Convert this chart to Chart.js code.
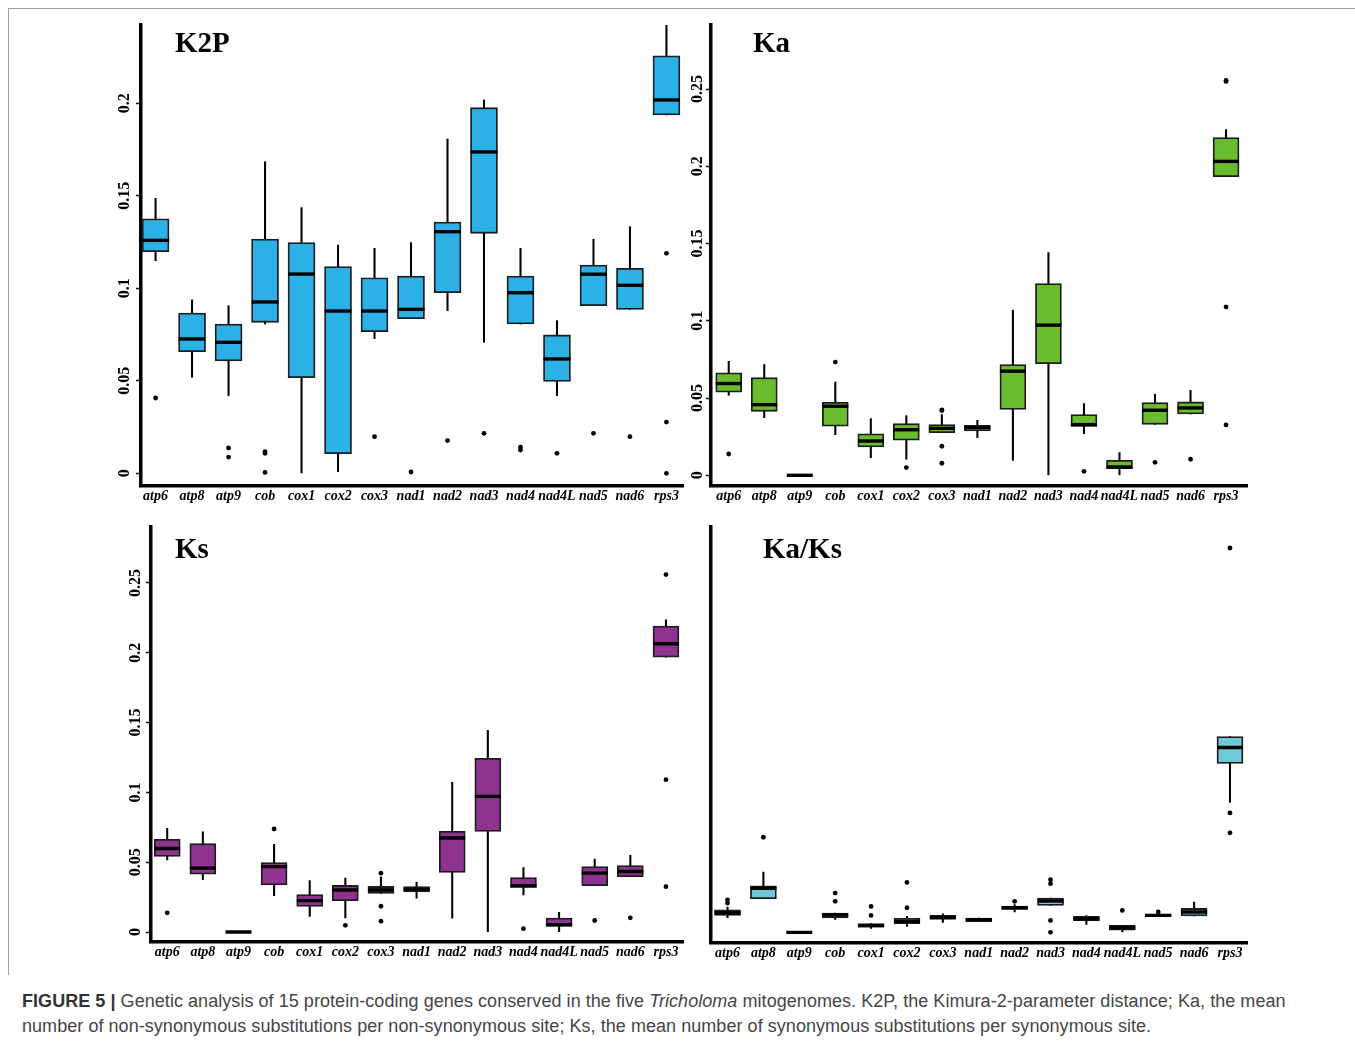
<!DOCTYPE html>
<html>
<head>
<meta charset="utf-8">
<script src="https://cdn.jsdelivr.net/npm/chart.js@4.4.1/dist/chart.umd.min.js"></script>
<style>
  html, body { margin: 0; padding: 0; background: #fff; }
  body { width: 1355px; height: 1045px; position: relative; overflow: hidden; }
  canvas { position: absolute; }
  .ttl { position: absolute; font: bold 29px 'Liberation Serif', 'Times New Roman', serif; line-height: 29px; color: #000; white-space: nowrap; }
  .cap { position: absolute; left: 22px; font: 18px 'Liberation Sans', Arial, sans-serif; letter-spacing: 0.05px; line-height: 20px; color: #454545; white-space: nowrap; }
  .cap b { color: #333; }
  .rule { position: absolute; background: #a0a0a0; }
</style>
</head>
<body>
<div class="rule" style="left:8px;top:8px;width:1347px;height:1px;"></div>
<div class="rule" style="left:8px;top:8px;width:1px;height:967px;"></div>

<canvas id="k2p" width="700" height="515" style="left:0px;top:0px;"></canvas>
<canvas id="ka" width="600" height="515" style="left:680px;top:0px;"></canvas>
<canvas id="ks" width="700" height="470" style="left:0px;top:510px;"></canvas>
<canvas id="kaks" width="600" height="470" style="left:680px;top:510px;"></canvas>

<div class="ttl" style="left:175px;top:27.7px;">K2P</div>
<div class="ttl" style="left:753px;top:27.7px;">Ka</div>
<div class="ttl" style="left:175px;top:533.7px;">Ks</div>
<div class="ttl" style="left:763px;top:533.7px;">Ka/Ks</div>

<div class="cap" style="top:990.7px;"><b>FIGURE 5 |</b> Genetic analysis of 15 protein-coding genes conserved in the five <i>Tricholoma</i> mitogenomes. K2P, the Kimura-2-parameter distance; Ka, the mean</div>
<div class="cap" style="top:1015.7px;">number of non-synonymous substitutions per non-synonymous site; Ks, the mean number of synonymous substitutions per synonymous site.</div>

<script>
// Genes on the x axis
const genes = ['atp6','atp8','atp9','cob','cox1','cox2','cox3','nad1','nad2','nad3','nad4','nad4L','nad5','nad6','rps3'];

// Y-axis tick values and their printed labels
const yTickValues = [0, 0.05, 0.1, 0.15, 0.2, 0.25];
const yTickLabels = ['0', '0.05', '0.1', '0.15', '0.2', '0.25'];

// K2P distance: lower whisker, Q1, median, Q3, upper whisker, outliers
const k2pLow  = [0.1149, 0.0519, 0.0420, 0.0807, 0.0000, 0.0009, 0.0728, 0.0836, 0.0879, 0.0708, 0.0807, 0.0420, 0.0906, 0.0886, 0.1937];
const k2pQ1   = [0.1198, 0.0657, 0.0607, 0.0816, 0.0517, 0.0106, 0.0765, 0.0836, 0.0976, 0.1297, 0.0807, 0.0497, 0.0906, 0.0886, 0.1937];
const k2pMed  = [0.1259, 0.0726, 0.0708, 0.0926, 0.1077, 0.0877, 0.0877, 0.0886, 0.1306, 0.1737, 0.0976, 0.0618, 0.1076, 0.1016, 0.2018];
const k2pQ3   = [0.1376, 0.0866, 0.0807, 0.1266, 0.1247, 0.1117, 0.1057, 0.1066, 0.1358, 0.1976, 0.1066, 0.0748, 0.1126, 0.1108, 0.2256];
const k2pHigh = [0.1486, 0.0937, 0.0906, 0.1684, 0.1436, 0.1234, 0.1216, 0.1247, 0.1807, 0.2018, 0.1216, 0.0825, 0.1265, 0.1333, 0.2423];
const k2pOut  = [[0.0407], [], [0.0137, 0.0088], [0.0117, 0.0108, 0.0005], [], [], [0.0198], [0.0007], [0.0177], [0.0216], [0.0141, 0.0126], [0.0108], [0.0216], [0.0198], [0.1189, 0.0277, 0.0]];

// Ka: non-synonymous substitutions per non-synonymous site
const kaLow  = [0.0518, 0.0373, 0, 0.0263, 0.0114, 0.0104, 0.0276, 0.0244, 0.0097, 0.0000, 0.0270, 0.0000, 0.0330, 0.0397, 0.1933];
const kaQ1   = [0.0538, 0.0414, 0, 0.0318, 0.0183, 0.0227, 0.0276, 0.0287, 0.0426, 0.0723, 0.0317, 0.0043, 0.0330, 0.0397, 0.1933];
const kaMed  = [0.0594, 0.0457, 0, 0.0447, 0.0222, 0.0295, 0.0304, 0.0309, 0.0674, 0.0972, 0.0328, 0.0054, 0.0421, 0.0436, 0.2032];
const kaQ3   = [0.0663, 0.0632, 0, 0.0472, 0.0268, 0.0334, 0.0328, 0.0324, 0.0717, 0.1241, 0.0393, 0.0097, 0.0470, 0.0475, 0.2187];
const kaHigh = [0.0738, 0.0717, 0, 0.0604, 0.0367, 0.0386, 0.0393, 0.0356, 0.1069, 0.1442, 0.0464, 0.0147, 0.0525, 0.0550, 0.2238];
const kaOut  = [[0.0138], [], [], [0.0733], [], [0.0050], [0.0423, 0.0419, 0.0188, 0.0078], [], [], [], [0.0026], [], [0.0084], [0.0104], [0.2556, 0.2550, 0.1090, 0.0326]];

// Ks: synonymous substitutions per synonymous site
const ksLow  = [0.0517, 0.0375, 0, 0.0261, 0.0112, 0.0102, 0.0277, 0.0242, 0.0100, 0.0000, 0.0266, 0.0000, 0.0332, 0.0396, 0.1968];
const ksQ1   = [0.0541, 0.0415, 0, 0.0337, 0.0183, 0.0225, 0.0277, 0.0287, 0.0427, 0.0721, 0.0320, 0.0041, 0.0332, 0.0396, 0.1968];
const ksMed  = [0.0598, 0.0458, 0, 0.0469, 0.0225, 0.0301, 0.0301, 0.0306, 0.0674, 0.0972, 0.0332, 0.0053, 0.0422, 0.0434, 0.2065];
const ksQ3   = [0.0664, 0.0633, 0, 0.0498, 0.0268, 0.0334, 0.0327, 0.0325, 0.0721, 0.1245, 0.0391, 0.0100, 0.0469, 0.0477, 0.2191];
const ksHigh = [0.0742, 0.0718, 0, 0.0629, 0.0368, 0.0387, 0.0396, 0.0356, 0.1072, 0.1444, 0.0462, 0.0142, 0.0522, 0.0550, 0.2236];
const ksOut  = [[0.0138], [], [], [0.0738], [], [0.0048], [0.0422, 0.0185, 0.0078], [], [], [], [0.0024], [], [0.0083], [0.0102], [0.2560, 0.1091, 0.0325]];

// Ka/Ks ratio
const kaksLow  = [0.103, 0.236, 0, 0.091, 0.028, 0.042, 0.070, 0.075, 0.143, 0.189, 0.056, 0.002, 0.110, 0.115, 0.914];
const kaksQ1   = [0.119, 0.236, 0, 0.101, 0.037, 0.061, 0.091, 0.075, 0.161, 0.189, 0.082, 0.016, 0.110, 0.115, 1.188];
const kaksMed  = [0.138, 0.309, 0, 0.122, 0.047, 0.077, 0.105, 0.089, 0.173, 0.220, 0.096, 0.033, 0.119, 0.143, 1.300];
const kaksQ3   = [0.159, 0.328, 0, 0.136, 0.061, 0.098, 0.119, 0.101, 0.185, 0.241, 0.112, 0.049, 0.129, 0.168, 1.378];
const kaksHigh = [0.178, 0.423, 0, 0.136, 0.061, 0.112, 0.131, 0.101, 0.196, 0.241, 0.118, 0.049, 0.129, 0.213, 1.378];
const kaksOut  = [[0.229, 0.206], [0.669], [], [0.276, 0.218], [0.182, 0.119], [0.351, 0.173], [], [], [0.218], [0.370, 0.342, 0.084, 0.0], [], [0.154], [0.143], [], [2.704, 0.840, 0.700]];

const positions = genes.map((g, i) => i + 1);

function boxPlot(canvasId, s, p) {
  const datasets = [
    { // median bar
      type: 'scatter', order: 0,
      data: positions.map((x, i) => ({ x, y: s.med[i] })),
      pointStyle: 'line', pointRadius: p.boxWidth / 2, pointBorderWidth: 3.4,
      pointBorderColor: '#000', pointBackgroundColor: '#000'
    },
    { // outlying points
      type: 'scatter', order: 1,
      data: s.out.flatMap((vals, i) => vals.map(y => ({ x: i + 1, y }))),
      pointStyle: 'circle', pointRadius: 2.4, pointBorderWidth: 0,
      pointBackgroundColor: '#000'
    },
    { // interquartile box
      type: 'bar', order: 2, grouped: false,
      data: positions.map((x, i) => ({ x, y: [s.q1[i], s.q3[i]] })),
      backgroundColor: p.fill, borderColor: '#1c1c1c', borderWidth: 1.8,
      borderSkipped: false, barThickness: p.boxWidth
    },
    { // whisker
      type: 'bar', order: 3, grouped: false,
      data: positions.map((x, i) => ({ x, y: [s.low[i], s.high[i]] })),
      backgroundColor: '#000', borderWidth: 0, barThickness: 1.4
    }
  ];

  const yTicksShown = p.showYTicks;
  return new Chart(document.getElementById(canvasId), {
    type: 'bar',
    data: { datasets },
    options: {
      responsive: false, animation: false, events: [],
      layout: { padding: p.padding },
      plugins: { legend: { display: false }, tooltip: { enabled: false } },
      scales: {
        x: {
          type: 'linear', min: p.xMin, max: p.xMax, offset: false,
          grid: { display: false, drawTicks: false, offset: false },
          border: { display: true, color: '#000', width: 3.5 },
          afterBuildTicks: (scale) => { scale.ticks = positions.map(v => ({ value: v })); },
          afterFit: (scale) => { scale.height = p.xAxisHeight; },
          ticks: {
            autoSkip: false, maxRotation: 0, minRotation: 0, padding: p.xLabelPad,
            color: '#000',
            font: { family: "'Liberation Serif', 'Times New Roman', serif", size: 14, weight: 'bold', style: 'italic' },
            callback: (v) => genes[Math.round(v) - 1]
          }
        },
        y: {
          type: 'linear', min: p.yMin, max: p.yMax,
          grid: {
            display: yTicksShown, drawOnChartArea: false, drawTicks: yTicksShown,
            tickLength: 5, tickWidth: 1.5, tickColor: '#111'
          },
          border: { display: true, color: '#000', width: 3.5 },
          afterBuildTicks: (scale) => {
            scale.ticks = yTicksShown ? yTickValues.filter(v => v <= p.yMax).map(v => ({ value: v })) : [];
          },
          afterFit: (scale) => { scale.width = p.yAxisWidth; },
          ticks: {
            display: yTicksShown, minRotation: 90, maxRotation: 90,
            crossAlign: 'center', padding: p.yLabelPad, color: '#000',
            font: { family: "'Liberation Serif', 'Times New Roman', serif", size: 16, weight: 'bold' },
            callback: (v) => yTickLabels[yTickValues.indexOf(v)]
          }
        }
      }
    }
  });
}

boxPlot('k2p',
  { low: k2pLow, q1: k2pQ1, med: k2pMed, q3: k2pQ3, high: k2pHigh, out: k2pOut },
  { fill: '#2cb1e7', boxWidth: 27, xMin: 0.601, xMax: 15.456, yMin: -0.00686, yMax: 0.2423,
    padding: { left: 0, top: 25, right: 15, bottom: 5 }, yAxisWidth: 141, xAxisHeight: 24,
    showYTicks: true, yLabelPad: -3, xLabelPad: 2 });

boxPlot('ka',
  { low: kaLow, q1: kaQ1, med: kaMed, q3: kaQ3, high: kaHigh, out: kaOut },
  { fill: '#6bbb2f', boxWidth: 26, xMin: 0.501, xMax: 15.59, yMin: -0.00693, yMax: 0.2915,
    padding: { left: 0, top: 25, right: 33, bottom: 5 }, yAxisWidth: 31, xAxisHeight: 24,
    showYTicks: true, yLabelPad: -6, xLabelPad: 2 });

boxPlot('ks',
  { low: ksLow, q1: ksQ1, med: ksMed, q3: ksQ3, high: ksHigh, out: ksOut },
  { fill: '#8e338f', boxWidth: 26, xMin: 0.545, xMax: 15.495, yMin: -0.00711, yMax: 0.2905,
    padding: { left: 0, top: 13, right: 14, bottom: 14 }, yAxisWidth: 151, xAxisHeight: 24,
    showYTicks: true, yLabelPad: -3.5, xLabelPad: 2 });

boxPlot('kaks',
  { low: kaksLow, q1: kaksQ1, med: kaksMed, q3: kaksQ3, high: kaksHigh, out: kaksOut },
  { fill: '#6fc8d5', boxWidth: 26, xMin: 0.54, xMax: 15.474, yMin: -0.0751, yMax: 2.856,
    padding: { left: 0, top: 15, right: 33, bottom: 13 }, yAxisWidth: 31, xAxisHeight: 24,
    showYTicks: false, yLabelPad: 0, xLabelPad: 2 });
</script>
</body>
</html>
